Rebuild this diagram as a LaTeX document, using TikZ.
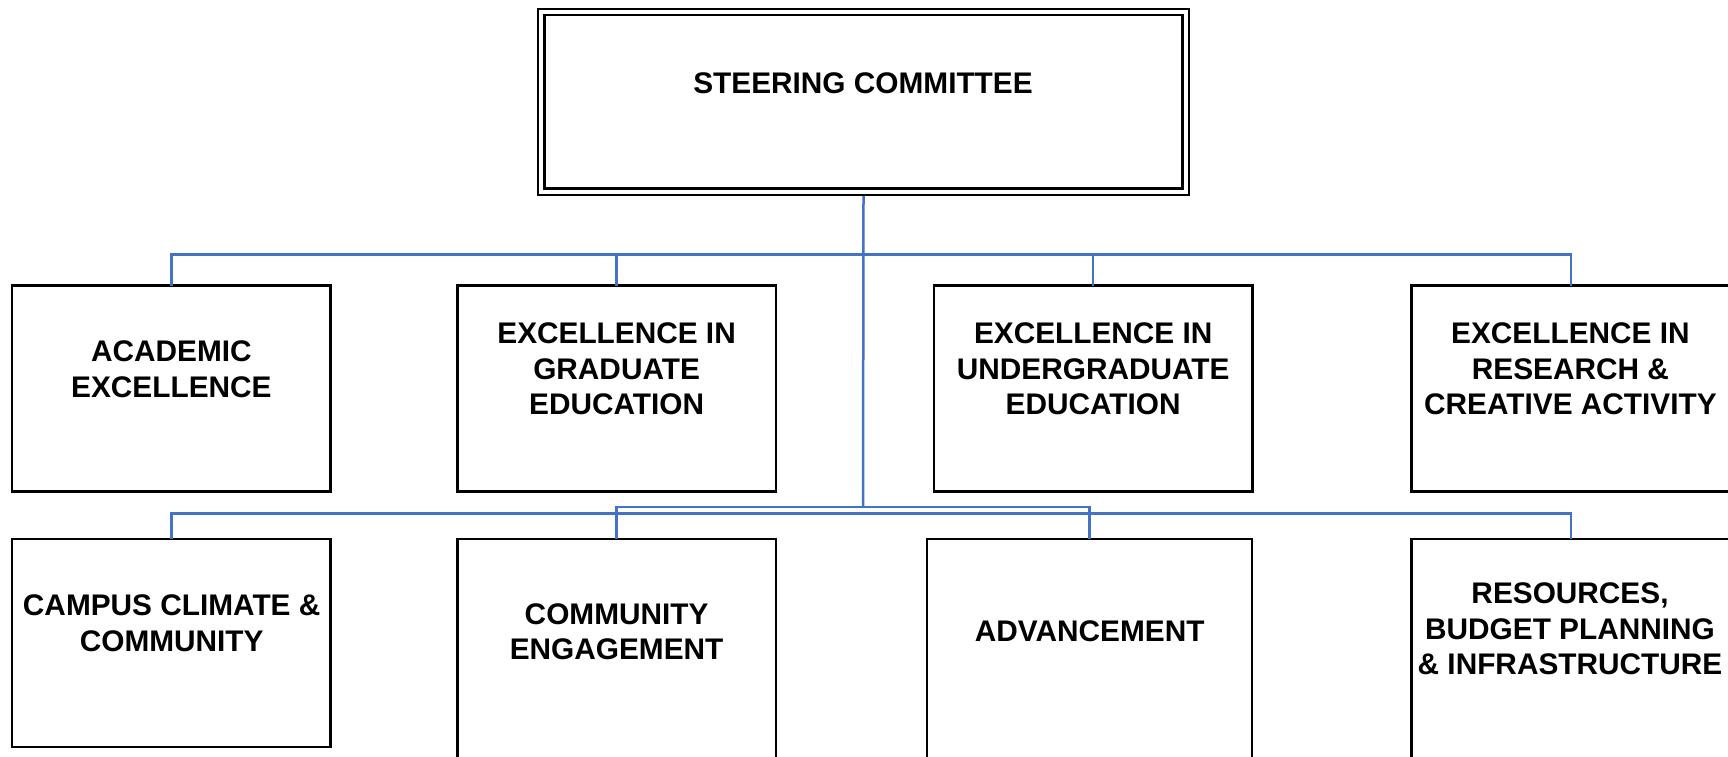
\documentclass[tikz,border=0pt]{standalone}
\usepackage{fontspec}
\setmainfont{Liberation Sans}
\definecolor{linkblue}{HTML}{4472C4}
\begin{document}
\begin{tikzpicture}[x=1pt,y=-1pt,
  box/.style={draw=black, line width=2.4pt, minimum width=318.5pt, inner sep=0pt, outer sep=0pt},
  lbl/.style={font=\fontsize{29.8}{35.5}\selectfont\bfseries, align=center, inner sep=0pt},
  conn/.style={draw=linkblue, line width=2.5pt}]
\clip (0,0) rectangle (1728,756);
\fill[white] (0,0) rectangle (1728,756);
% top box
\node[box, line width=2.2pt, double, double distance=4.4pt, minimum width=644.7pt, minimum height=179.7pt] (steer) at (863.5,101.9) {};
\node[lbl] (steertxt) at (863,83) {STEERING COMMITTEE};
% row 1
\node[box, minimum height=206pt] (acad) at (171.4,388.5) {};
\node[box, minimum height=206pt] (grad) at (616.6,388.5) {};
\node[box, minimum height=206pt] (ugrad) at (1093.2,388.5) {};
\node[box, minimum height=206pt] (res) at (1570.9,388.5) {};
\node[lbl] (acadtxt) at (171.4,369) {ACADEMIC\\EXCELLENCE};
\node[lbl] (gradtxt) at (616.6,369) {EXCELLENCE IN\\GRADUATE\\EDUCATION};
\node[lbl] (ugradtxt) at (1093.2,369) {EXCELLENCE IN\\UNDERGRADUATE\\EDUCATION};
\node[lbl] (restxt) at (1570.4,369) {EXCELLENCE IN\\RESEARCH \&\\CREATIVE ACTIVITY};
% row 2
\node[box, minimum height=208pt] (camp) at (171.4,643) {};
\node[box, minimum height=240pt] (ce) at (616.6,659) {};
\node[box, minimum width=325pt, minimum height=240pt] (adv) at (1089.4,659) {};
\node[box, minimum height=240pt] (rbp) at (1570.9,659) {};
\node[lbl] (camptxt) at (171.7,623.3) {CAMPUS CLIMATE \&\\COMMUNITY};
\node[lbl] (cetxt) at (616.6,631.5) {COMMUNITY\\ENGAGEMENT};
\node[lbl] (advtxt) at (1089.7,631) {ADVANCEMENT};
\node[lbl] (rbptxt) at (1570,629) {RESOURCES,\\BUDGET PLANNING\\\& INFRASTRUCTURE};
% connectors
\coordinate (j1) at (863,254.6);
\coordinate (j2) at (863,507);
\coordinate (j3) at (863,513.5);
\draw[conn] ([yshift=-4.4pt]steer.south) -- (j2);
\draw[conn] (acad.north) |- (j1) -| (res.north);
\draw[conn] (grad.north) -- (grad.north |- j1);
\draw[conn] (ugrad.north) -- (ugrad.north |- j1);
\draw[conn] (ce.north) |- (j2) -| (adv.north);
\draw[conn] (camp.north) |- (j3) -| (rbp.north);
\end{tikzpicture}
\end{document}
